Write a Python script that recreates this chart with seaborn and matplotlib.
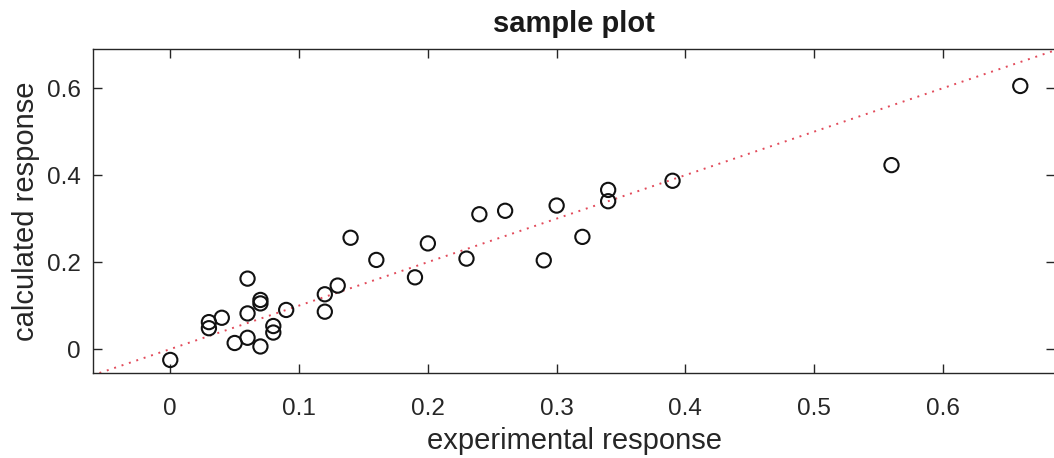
import matplotlib
matplotlib.use("Agg")
import matplotlib.pyplot as plt
import seaborn as sns
import pandas as pd

experimental = [0.00, 0.03, 0.03, 0.04, 0.05, 0.06, 0.06, 0.06, 0.07, 0.07, 0.07,
                0.08, 0.08, 0.09, 0.12, 0.12, 0.13, 0.14, 0.16, 0.19, 0.20, 0.23,
                0.24, 0.26, 0.29, 0.30, 0.32, 0.34, 0.34, 0.39, 0.56, 0.66]
calculated = [-0.025, 0.062, 0.048, 0.072, 0.014, 0.162, 0.082, 0.026, 0.113, 0.105, 0.006,
              0.053, 0.038, 0.090, 0.126, 0.086, 0.146, 0.256, 0.205, 0.165, 0.243, 0.208,
              0.310, 0.318, 0.204, 0.330, 0.258, 0.366, 0.340, 0.387, 0.423, 0.605]
xticks = [0, 0.1, 0.2, 0.3, 0.4, 0.5, 0.6]
yticks = [0, 0.2, 0.4, 0.6]
title = "sample plot"
xlabel = "experimental response"
ylabel = "calculated response"

df = pd.DataFrame({"experimental": experimental, "calculated": calculated})

sns.set_style("ticks")
plt.rcParams["font.family"] = ["Liberation Sans", "DejaVu Sans"]

fig = plt.figure(figsize=(10.54, 4.58), dpi=100)
ax = fig.add_axes([93 / 1054, 85 / 458, 1 - 93 / 1054 + 0.001, (373 - 49) / 458])

ax.axline((0, 0), slope=1, color="#e24a5a", linestyle=(0, (1, 3)), linewidth=1.4, zorder=1)
sns.scatterplot(data=df, x="experimental", y="calculated", ax=ax, s=105,
                facecolor="none", edgecolor="#111111", linewidth=1.5, zorder=3)

ax.set_xlim(-0.06, 0.687)
ax.set_ylim(-0.055, 0.69)
ax.set_xticks(xticks)
ax.set_xticklabels(["0", "0.1", "0.2", "0.3", "0.4", "0.5", "0.6"])
ax.set_yticks(yticks)
ax.set_yticklabels(["0", "0.2", "0.4", "0.6"])
ax.tick_params(direction="in", length=6.5, width=1, colors="#262626", labelsize=17.5,
               top=True, right=True)
ax.tick_params(axis="x", pad=18)
ax.tick_params(axis="y", pad=9)
for sp in ax.spines.values():
    sp.set_visible(True)
    sp.set_color("#262626")
    sp.set_linewidth(1)

ax.set_title(title, fontsize=21, fontweight="bold", pad=12, color="#1a1a1a")
ax.set_xlabel(xlabel, fontsize=21, labelpad=5, color="#262626")
ax.set_ylabel(ylabel, fontsize=21, labelpad=5, color="#262626")

fig.savefig("out.png", dpi=100)
